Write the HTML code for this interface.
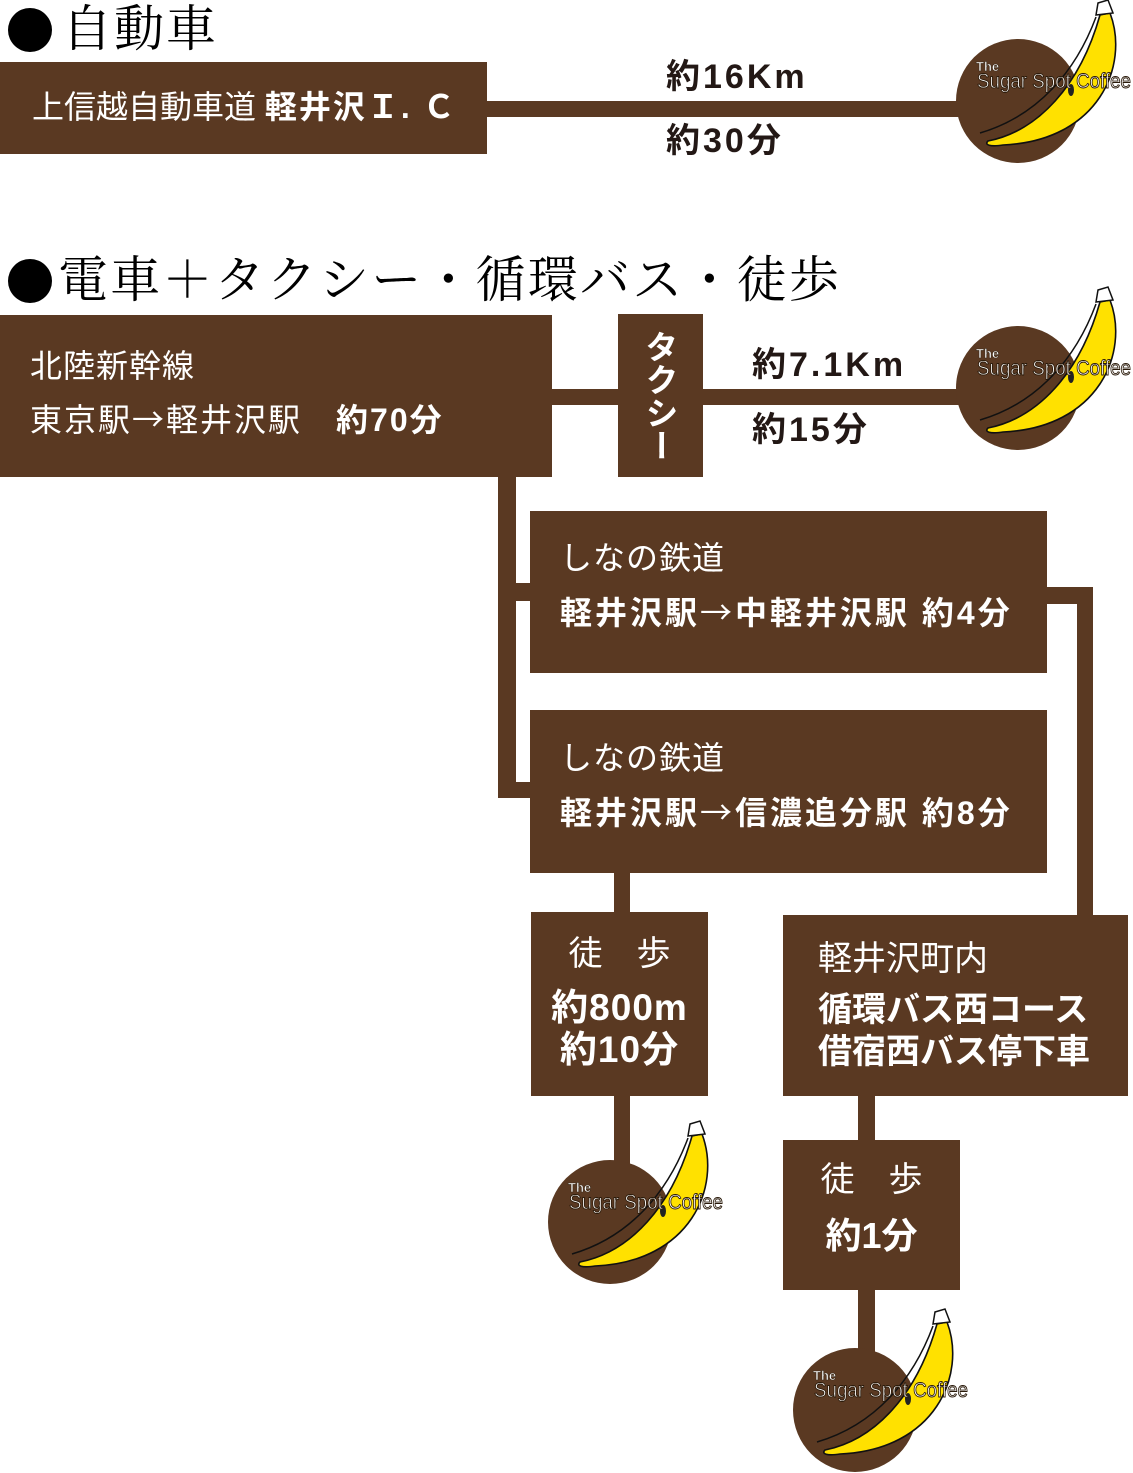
<!DOCTYPE html>
<html><head><meta charset="utf-8"><style>
body{margin:0;width:1133px;height:1473px;background:#fff;position:relative;overflow:hidden;font-family:"Liberation Sans","Noto Sans CJK JP",sans-serif}
.b{position:absolute;background:#5a3922}
.t{position:absolute;color:#fff;white-space:nowrap;line-height:1}
.h{position:absolute;font-family:"Liberation Serif","Noto Serif CJK SC",serif;font-size:50px;color:#000;line-height:1;white-space:nowrap;letter-spacing:2px}
.dot{position:absolute;width:44px;height:44px;border-radius:50%;background:#000}
.k{position:absolute;color:#231815;font-weight:bold;font-size:34px;line-height:1;white-space:nowrap;letter-spacing:3px}
b{font-weight:bold}
.ar{font-family:"Noto Sans CJK JP",sans-serif;font-weight:normal}
</style></head><body>
<div class="dot" style="left:8px;top:8px"></div>
<div class="h" style="left:62px;top:4px">自動車</div>
<div class="b" style="left:0;top:62px;width:487px;height:92px"></div>
<div class="t" style="left:32px;top:91px;font-size:32px">上信越自動車道 <b style="letter-spacing:2px">軽井沢Ｉ. Ｃ</b></div>
<div class="b" style="left:487px;top:101px;width:480px;height:16px"></div>
<div class="k" style="left:666px;top:60px">約16Km</div>
<div class="k" style="left:666px;top:124px">約30分</div>

<div class="dot" style="left:8px;top:259px"></div>
<div class="h" style="left:58px;top:255px;letter-spacing:2.2px">電車＋タクシー・循環バス・徒歩</div>
<div class="b" style="left:0;top:315px;width:552px;height:162px"></div>
<div class="t" style="left:30px;top:350px;font-size:32px;letter-spacing:1px">北陸新幹線</div>
<div class="t" style="left:30px;top:402px;font-size:32px;letter-spacing:2px">東京駅<span class="ar">→</span>軽井沢駅　<b>約70分</b></div>
<div class="b" style="left:552px;top:389px;width:410px;height:16px"></div>
<div class="b" style="left:618px;top:314px;width:85px;height:163px"></div>
<div class="t" style="left:643px;top:330px;font-size:33px;font-weight:bold;writing-mode:vertical-rl">タクシー</div>
<div class="k" style="left:752px;top:348px">約7.1Km</div>
<div class="k" style="left:752px;top:413px">約15分</div>

<div class="b" style="left:498px;top:477px;width:18px;height:321px"></div>
<div class="b" style="left:498px;top:583px;width:32px;height:18px"></div>
<div class="b" style="left:498px;top:782px;width:32px;height:16px"></div>
<div class="b" style="left:530px;top:511px;width:517px;height:162px"></div>
<div class="t" style="left:560px;top:542px;font-size:32px;letter-spacing:1px">しなの鉄道</div>
<div class="t" style="left:560px;top:595px;font-size:32px;font-weight:bold;letter-spacing:3px">軽井沢駅<span class="ar">→</span>中軽井沢駅 約4分</div>
<div class="b" style="left:530px;top:710px;width:517px;height:163px"></div>
<div class="t" style="left:560px;top:742px;font-size:32px;letter-spacing:1px">しなの鉄道</div>
<div class="t" style="left:560px;top:795px;font-size:32px;font-weight:bold;letter-spacing:3px">軽井沢駅<span class="ar">→</span>信濃追分駅 約8分</div>
<div class="b" style="left:1047px;top:587px;width:46px;height:17px"></div>
<div class="b" style="left:1077px;top:587px;width:16px;height:328px"></div>

<div class="b" style="left:614px;top:873px;width:16px;height:300px"></div>
<div class="b" style="left:531px;top:912px;width:177px;height:184px"></div>
<div class="t" style="left:531px;width:177px;text-align:center;top:937px;font-size:34px">徒　歩</div>
<div class="t" style="left:531px;width:177px;text-align:center;top:989px;font-size:37px;font-weight:bold;letter-spacing:1px">約800m</div>
<div class="t" style="left:531px;width:177px;text-align:center;top:1031px;font-size:37px;font-weight:bold;letter-spacing:1px">約10分</div>

<div class="b" style="left:858px;top:1096px;width:17px;height:270px"></div>
<div class="b" style="left:783px;top:915px;width:345px;height:181px"></div>
<div class="t" style="left:818px;top:942px;font-size:34px">軽井沢町内</div>
<div class="t" style="left:818px;top:993px;font-size:34px;font-weight:bold">循環バス西コース</div>
<div class="t" style="left:818px;top:1035px;font-size:34px;font-weight:bold">借宿西バス停下車</div>
<div class="b" style="left:783px;top:1140px;width:177px;height:150px"></div>
<div class="t" style="left:783px;width:177px;text-align:center;top:1163px;font-size:34px">徒　歩</div>
<div class="t" style="left:783px;width:177px;text-align:center;top:1218px;font-size:36px;font-weight:bold">約1分</div>

<svg width="1133" height="1473" style="position:absolute;left:0;top:0">
<defs>
<g id="logo">
<circle cx="0" cy="0" r="62" fill="#5a3922"/>
<path d="M-30,40 C20,30 62,-15 82,-86 L92,-88 C112,-35 80,40 -15,44 C-28,46 -34,44 -30,40 Z" fill="#ffe100" stroke="#111" stroke-width="1.6"/>
<path d="M-38,32 C20,15 58,-30 78,-84" fill="none" stroke="#111" stroke-width="1.5"/>
<path d="M78,-86 L80,-98 L90,-101 L95,-88 Z" fill="#fff" stroke="#111" stroke-width="1.5"/>
<ellipse cx="53" cy="-11" rx="3" ry="6" fill="#222"/>
<text x="-42" y="-30" font-family="Liberation Sans Narrow, Liberation Sans, sans-serif" font-size="13" font-weight="bold" fill="#fff" stroke="#3a2a1a" stroke-width="0.6">The</text>
<text x="-41" y="-13" font-family="Liberation Sans Narrow, Liberation Sans, sans-serif" font-size="21" fill="#fff" stroke="#2a1a0a" stroke-width="0.9" textLength="154" lengthAdjust="spacingAndGlyphs">Sugar Spot Coffee</text>
</g>
</defs>
<use href="#logo" x="1018" y="101"/>
<use href="#logo" x="1018" y="388"/>
<use href="#logo" x="610" y="1222"/>
<use href="#logo" x="855" y="1410"/>
</svg>
</body></html>
